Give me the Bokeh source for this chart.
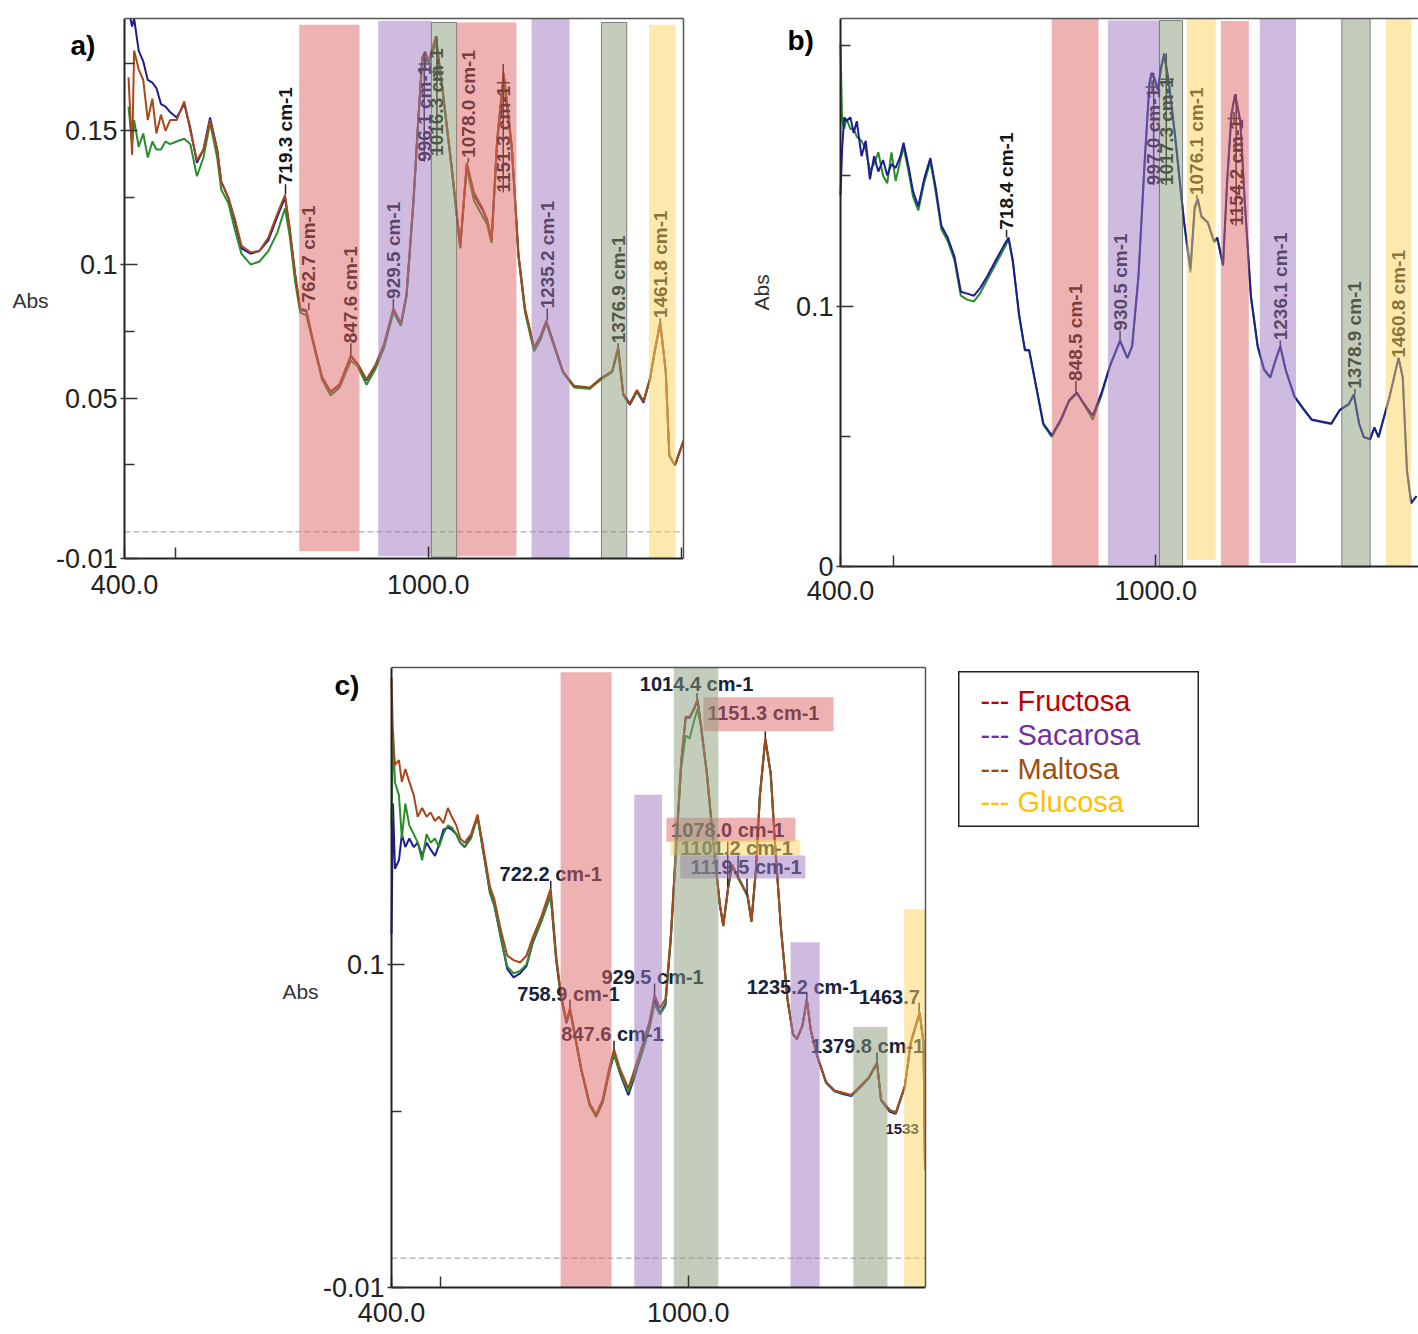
from math import pi
from bokeh.plotting import figure
from bokeh.models import (Range1d, FixedTicker, CustomJSTickFormatter, ColumnDataSource, LinearAxis, Spacer)
from bokeh.layouts import row, column
from bokeh.embed import file_html
from bokeh.resources import INLINE
from bokeh.core.properties import value

# ---------------- DATA ----------------
# Axis limits of each panel (wavenumber cm-1, absorbance)
A_XLIM = (400, 1504)
A_YLIM = (-0.01, 0.192)
B_XLIM = (400, 1500)
B_YLIM = (0.0, 0.2103)
C_XLIM = (400, 1480)
C_YLIM = (-0.01, 0.20115)

# Panel a) spectra
A_WN = [408, 415, 419, 428, 437, 446, 455, 463, 472, 481, 490, 503, 518, 530, 543, 556, 569, 583, 591, 605,
        618, 631, 649, 666, 684, 702, 717, 726, 737, 747, 759, 772, 790, 807, 825, 847, 860, 878, 896, 913,
        931, 946, 957, 971, 980, 988, 994, 1001, 1015, 1028, 1046, 1063, 1076, 1090, 1107, 1116, 1125, 1136, 1149, 1165,
        1178, 1191, 1209, 1222, 1233, 1248, 1266, 1288, 1319, 1341, 1363, 1375, 1385, 1398, 1412, 1425, 1438, 1447, 1458, 1469,
        1476, 1487, 1504]
A_BROWN = [0.170, 0.141, 0.180, 0.173, 0.169, 0.154, 0.162, 0.149, 0.156, 0.150,
           0.154, 0.154, 0.161, 0.150, 0.139, 0.143, 0.154, 0.143, 0.131, 0.125,
           0.117, 0.107, 0.1045, 0.105, 0.110, 0.119, 0.126, 0.114, 0.0965, 0.0835,
           0.083, 0.072, 0.058, 0.0525, 0.0553, 0.066, 0.063, 0.057, 0.0626, 0.0705,
           0.0835, 0.078, 0.089, 0.125, 0.154, 0.1775, 0.1796, 0.176, 0.1854, 0.166,
           0.137, 0.107, 0.138, 0.127, 0.121, 0.117, 0.1095, 0.147, 0.1717, 0.144,
           0.104, 0.0835, 0.069, 0.0734, 0.079, 0.0705, 0.060, 0.0546, 0.054, 0.0575,
           0.060, 0.069, 0.0517, 0.048, 0.053, 0.0488, 0.0575, 0.0676, 0.0785, 0.060,
           0.0286, 0.025, 0.034]
A_BLUE = [0.195, 0.189, 0.192, 0.180, 0.176, 0.169, 0.168, 0.166, 0.160, 0.159,
          0.157, 0.155, 0.160, 0.151, 0.138, 0.143, 0.155, 0.143, 0.131, 0.125,
          0.116, 0.106, 0.104, 0.105, 0.109, 0.118, 0.125, 0.1135, 0.096, 0.083,
          0.0825, 0.0715, 0.0578, 0.0522, 0.055, 0.0655, 0.0628, 0.0566, 0.0622, 0.070,
          0.083, 0.0775, 0.0885, 0.1245, 0.1535, 0.177, 0.179, 0.1755, 0.185, 0.1655,
          0.1365, 0.1065, 0.1375, 0.126, 0.1205, 0.1165, 0.109, 0.1465, 0.171, 0.1435,
          0.1035, 0.083, 0.0685, 0.073, 0.0785, 0.070, 0.0597, 0.0543, 0.0537, 0.0572,
          0.0598, 0.0687, 0.0512, 0.0475, 0.0525, 0.0483, 0.0572, 0.0673, 0.0782, 0.0598,
          0.0284, 0.0248, 0.0338]
A_GREEN = [0.159, 0.145, 0.154, 0.144, 0.149, 0.140, 0.146, 0.143, 0.143, 0.146,
           0.145, 0.146, 0.147, 0.145, 0.133, 0.140, 0.153, 0.140, 0.128, 0.123,
           0.113, 0.104, 0.100, 0.101, 0.105, 0.112, 0.121, 0.111, 0.0936, 0.082,
           0.081, 0.071, 0.057, 0.051, 0.054, 0.064, 0.062, 0.055, 0.061, 0.069,
           0.082, 0.077, 0.088, 0.124, 0.153, 0.176, 0.177, 0.175, 0.183, 0.165,
           0.136, 0.106, 0.136, 0.124, 0.118, 0.115, 0.108, 0.145, 0.169, 0.143,
           0.103, 0.082, 0.0675, 0.072, 0.078, 0.0695, 0.0595, 0.054, 0.0535, 0.057,
           0.0598, 0.068, 0.0512, 0.048, 0.0528, 0.0487, 0.0572, 0.0672, 0.078, 0.0598,
           0.0285, 0.0248, 0.0342]

# Panel b) spectra
B_WN = [400, 403, 407, 411, 419, 425, 431, 440, 448, 456, 464, 472, 481, 489, 497, 505, 514, 520, 530, 538,
        548, 559, 571, 581, 592, 604, 617, 629, 641, 654, 666, 679, 695, 711, 720, 728, 740, 751, 759, 769,
        786, 802, 819, 835, 850, 864, 880, 897, 913, 932, 946, 955, 967, 979, 988, 992, 998, 1004, 1010, 1016,
        1025, 1037, 1054, 1066, 1074, 1080, 1087, 1099, 1111, 1117, 1128, 1136, 1144, 1151, 1161, 1169, 1181, 1194, 1206, 1218,
        1227, 1237, 1247, 1264, 1280, 1297, 1317, 1334, 1350, 1367, 1377, 1387, 1396, 1408, 1416, 1424, 1433, 1445, 1462, 1470,
        1478, 1486, 1496]
B_BLUE = [0.1426, 0.160, 0.1724, 0.1709, 0.1724, 0.1664, 0.1709, 0.1575, 0.1634, 0.1486,
          0.1575, 0.1516, 0.156, 0.1501, 0.1545, 0.153, 0.1575, 0.1627, 0.153, 0.1441,
          0.1382, 0.1486, 0.1568, 0.1456, 0.1308, 0.1263, 0.1189, 0.1055, 0.1048, 0.104,
          0.107, 0.1114, 0.1174, 0.1233, 0.1263, 0.1174, 0.0966, 0.0832, 0.0832, 0.0728,
          0.055, 0.0505, 0.0565, 0.0639, 0.0669, 0.0624, 0.058, 0.0669, 0.0773, 0.0869,
          0.0802, 0.0847, 0.1114, 0.156, 0.1857, 0.1895, 0.1872, 0.1828, 0.1917, 0.1969,
          0.1857, 0.1649, 0.1322, 0.1144, 0.1382, 0.1412, 0.1345, 0.1322, 0.1248, 0.1263,
          0.1159, 0.1486, 0.1738, 0.1813, 0.1709, 0.1412, 0.104, 0.0847, 0.0758, 0.0728,
          0.0788, 0.0847, 0.0758, 0.0654, 0.0609, 0.0565, 0.0557, 0.055, 0.0602, 0.0624,
          0.0661, 0.055, 0.0498, 0.049, 0.0535, 0.0498, 0.0565, 0.0654, 0.0802, 0.0728,
          0.0371, 0.0245, 0.0272]
B_GREEN = [0.2006, 0.1709, 0.168, 0.172, 0.1679, 0.168, 0.165, 0.1634, 0.160, 0.152,
           0.1545, 0.159, 0.150, 0.1471, 0.159, 0.148, 0.156, 0.161, 0.151, 0.142,
           0.1367, 0.147, 0.1555, 0.144, 0.1295, 0.125, 0.1175, 0.104, 0.1025, 0.1018,
           0.105, 0.110, 0.116, 0.122, 0.1255, 0.117, 0.0962, 0.083, 0.083, 0.0725,
           0.0545, 0.0498, 0.0558, 0.0635, 0.0665, 0.062, 0.0565, 0.066, 0.077, 0.0865,
           0.080, 0.0845, 0.111, 0.1555, 0.185, 0.189, 0.187, 0.183, 0.191, 0.196,
           0.1855, 0.1645, 0.1315, 0.1129, 0.137, 0.1405, 0.134, 0.132, 0.1245, 0.126,
           0.1155, 0.148, 0.173, 0.181, 0.1705, 0.141, 0.1035, 0.0843, 0.0755, 0.0725,
           0.0785, 0.0845, 0.0755, 0.0652, 0.0607, 0.0563, 0.0555, 0.0548, 0.060, 0.0622,
           0.066, 0.0548, 0.0497, 0.0489, 0.0533, 0.0497, 0.0563, 0.0652, 0.080, 0.0726,
           0.037, 0.0244, 0.0270]

# Panel c) spectra
C_WN = [400, 403, 407, 415, 421, 428, 436, 445, 453, 462, 471, 479, 488, 496, 505, 514, 522, 531, 539, 548,
        561, 574, 587, 599, 608, 621, 634, 647, 660, 673, 685, 703, 722, 733, 743, 754, 761, 771, 784, 801,
        814, 827, 840, 850, 862, 879, 892, 909, 922, 932, 943, 954, 965, 978, 986, 995, 1003, 1012, 1019, 1025,
        1038, 1051, 1064, 1071, 1081, 1089, 1102, 1111, 1120, 1128, 1137, 1145, 1156, 1167, 1175, 1188, 1201, 1212, 1220, 1231,
        1240, 1248, 1261, 1279, 1296, 1313, 1330, 1347, 1365, 1382, 1390, 1408, 1420, 1429, 1438, 1450, 1468, 1476, 1479]
C_BROWN = [0.1977, 0.177, 0.168, 0.1696, 0.1622, 0.1666, 0.1622, 0.1577, 0.1503, 0.1533,
           0.1503, 0.1518, 0.1489, 0.1503, 0.1481, 0.1533, 0.1503, 0.1474, 0.1429, 0.1415,
           0.1444, 0.1511, 0.1385, 0.1266, 0.1222, 0.1118, 0.103, 0.1015, 0.1007, 0.103,
           0.1089, 0.1163, 0.1259, 0.103, 0.0896, 0.0808, 0.0852, 0.0763, 0.0645, 0.0526,
           0.0489, 0.0541, 0.0645, 0.0711, 0.0645, 0.0578, 0.0645, 0.0734, 0.0808, 0.0896,
           0.0852, 0.0882, 0.1104, 0.1474, 0.1696, 0.1844, 0.1844, 0.1873, 0.1903, 0.1829,
           0.1651, 0.1415, 0.1207, 0.1133, 0.1266, 0.134, 0.1296, 0.1266, 0.1237, 0.1148,
           0.1326, 0.1577, 0.177, 0.1651, 0.1429, 0.1118, 0.0882, 0.0763, 0.0748, 0.0793,
           0.0882, 0.0778, 0.0689, 0.060, 0.0571, 0.0563, 0.0556, 0.0585, 0.0615, 0.0667,
           0.0541, 0.0504, 0.0497, 0.0541, 0.0585, 0.0734, 0.0837, 0.0734, 0.030]
C_GREEN = [0.1474, 0.180, 0.162, 0.1577, 0.143, 0.1548, 0.1474, 0.1444, 0.1415, 0.1355,
           0.1444, 0.1415, 0.1429, 0.140, 0.1444, 0.1474, 0.1466, 0.1444, 0.1415, 0.140,
           0.143, 0.1503, 0.137, 0.125, 0.1205, 0.109, 0.0993, 0.097, 0.0978, 0.100,
           0.1074, 0.1148, 0.1237, 0.102, 0.089, 0.0805, 0.0845, 0.076, 0.064, 0.052,
           0.048, 0.053, 0.0635, 0.0695, 0.0635, 0.0565, 0.0625, 0.071, 0.0785, 0.0865,
           0.083, 0.086, 0.109, 0.146, 0.167, 0.178, 0.177, 0.183, 0.187, 0.182,
           0.1645, 0.141, 0.1203, 0.113, 0.126, 0.1335, 0.129, 0.1262, 0.1233, 0.1145,
           0.1322, 0.157, 0.1765, 0.1648, 0.1425, 0.1115, 0.088, 0.0762, 0.0746, 0.079,
           0.0878, 0.0775, 0.0687, 0.0598, 0.057, 0.0562, 0.0555, 0.0583, 0.0613, 0.0664,
           0.054, 0.0502, 0.0495, 0.054, 0.0583, 0.0732, 0.0835, 0.0732, 0.030]
C_BLUE = [0.1104, 0.1548, 0.1326, 0.1355, 0.1444, 0.140, 0.1429, 0.140, 0.1415, 0.137,
          0.1415, 0.1392, 0.137, 0.1407, 0.1459, 0.1466, 0.1459, 0.1444, 0.1415, 0.140,
          0.1437, 0.1503, 0.137, 0.1245, 0.120, 0.1095, 0.0985, 0.0956, 0.097, 0.0995,
          0.107, 0.1148, 0.1237, 0.1015, 0.0885, 0.080, 0.0845, 0.0755, 0.064, 0.052,
          0.0485, 0.053, 0.063, 0.0695, 0.063, 0.0555, 0.062, 0.0715, 0.079, 0.088,
          0.0835, 0.0865, 0.109, 0.1465, 0.169, 0.184, 0.184, 0.187, 0.190, 0.1825,
          0.1648, 0.1412, 0.1205, 0.1132, 0.1264, 0.1338, 0.1294, 0.1264, 0.1235, 0.1146,
          0.1324, 0.1575, 0.1768, 0.165, 0.1427, 0.1116, 0.088, 0.0761, 0.0746, 0.0791,
          0.088, 0.0776, 0.0687, 0.0597, 0.0568, 0.0559, 0.0552, 0.058, 0.0612, 0.0664,
          0.0537, 0.0498, 0.0492, 0.0537, 0.0582, 0.0732, 0.0835, 0.0732, 0.030]

# Shaded bands (left, right, bottom, top, kind)
A_BAND_L = [745, 901, 1006, 1056, 1204, 1342, 1436]
A_BAND_R = [864, 1006, 1056, 1174, 1279, 1392, 1488]
A_BAND_B = [-0.0073, -0.0092, -0.0095, -0.0092, -0.010, -0.010, -0.010]
A_BAND_T = [0.1897, 0.1912, 0.1905, 0.1905, 0.192, 0.1905, 0.1897]
A_BAND_K = ["red", "purple", "gray", "red", "purple", "gray", "yellow"]

B_BAND_L = [802, 909, 1007, 1059, 1124, 1198, 1354, 1438]
B_BAND_R = [891, 1007, 1051, 1114, 1177, 1267, 1408, 1486]
B_BAND_B = [0.0, 0.0007, 0.0, 0.0027, 0.0, 0.0015, 0.0, 0.0]
B_BAND_T = [0.2103, 0.2095, 0.2095, 0.2103, 0.2093, 0.2103, 0.2103, 0.2103]
B_BAND_K = ["red", "purple", "gray", "yellow", "red", "purple", "gray", "yellow"]

C_BAND_L = [742, 891, 971, 1207, 1334, 1437]
C_BAND_R = [845, 947, 1061, 1266, 1403, 1486]
C_BAND_B = [-0.01, -0.01, -0.01, -0.01, -0.01, -0.01]
C_BAND_T = [0.1995, 0.1578, 0.2012, 0.1076, 0.0787, 0.1188]
C_BAND_K = ["red", "purple", "gray", "purple", "gray", "yellow"]

BAND_COLORS = {"red": "#e06666", "purple": "#a078c0", "gray": "#8a9a7a", "yellow": "#fbd35d"}

# Peak annotations (panel a / b: vertical labels)
A_PK_TEXT = ["719.3 cm-1", "762.7 cm-1", "847.6 cm-1", "929.5 cm-1", "996.1 cm-1", "1016.3 cm-1",
             "1078.0 cm-1", "1151.3 cm-1", "1235.2 cm-1", "1376.9 cm-1", "1461.8 cm-1"]
A_PK_X = [718, 764, 847, 931, 992, 1017, 1079, 1148, 1235, 1375, 1458]
A_PK_PEAK = [0.1262, 0.083, 0.066, 0.0835, 0.1796, 0.1854, 0.138, 0.175, 0.079, 0.069, 0.0785]
A_PK_LAB = [0.130, 0.0857, 0.0705, 0.0871, 0.1384, 0.1406, 0.1399, 0.1269, 0.0835, 0.0705, 0.0799]
A_CROSS_X = [994, 1018, 1148]
A_CROSS_Y = [0.175, 0.172, 0.168]

B_PK_TEXT = ["718.4 cm-1", "848.5 cm-1", "930.5 cm-1", "997.0 cm-1", "1017.3 cm-1", "1076.1 cm-1",
             "1154.2 cm-1", "1236.1 cm-1", "1378.9 cm-1", "1460.8 cm-1"]
B_PK_X = [716, 848, 932, 996, 1020, 1078, 1153, 1237, 1379, 1461]
B_PK_PEAK = [0.1263, 0.0669, 0.0869, 0.1895, 0.1969, 0.1412, 0.1813, 0.0847, 0.0661, 0.0802]
B_PK_LAB = [0.1293, 0.0713, 0.0906, 0.1464, 0.1464, 0.1426, 0.1308, 0.0869, 0.0683, 0.0802]
B_CROSS_X = [993, 1022, 1149]
B_CROSS_Y = [0.184, 0.187, 0.172]

# Panel c: horizontal labels
C_PK_TEXT = ["1014.4 cm-1", "1151.3 cm-1", "1078.0 cm-1", "1101.2 cm-1", "1119.5 cm-1",
             "722.2 cm-1", "758.9 cm-1", "929.5 cm-1", "847.6 cm-1", "1235.2 cm-1"]
C_PK_X = [1017, 1152, 1080, 1098, 1117, 722, 758, 928, 847, 1233]
C_PK_Y = [0.1957, 0.1858, 0.1458, 0.1397, 0.1331, 0.1307, 0.0898, 0.0959, 0.0762, 0.0922]
C_PKL_TEXT = ["1463.7", "1379.8 cm-1"]
C_PKL_X = [1345, 1248]
C_PKL_Y = [0.0891, 0.0721]
C_SMALL_TEXT = ["1533"]
C_SMALL_X = [1399]
C_SMALL_Y = [0.0441]
C_LINE_X = [1018, 1156, 722, 761, 850, 932, 1240, 1382, 1467, 1080, 1101, 1119]
C_LINE_PEAK = [0.1903, 0.177, 0.1259, 0.0852, 0.0711, 0.0896, 0.0882, 0.0667, 0.0837, 0.1266, 0.1296, 0.1237]
C_LINE_LAB = [0.1925, 0.1794, 0.1285, 0.0880, 0.0740, 0.0935, 0.0905, 0.0700, 0.0870, 0.1418, 0.1371, 0.1293]
C_BOX_L = [1031, 956, 964, 984]
C_BOX_R = [1294, 1217, 1227, 1237]
C_BOX_B = [0.1794, 0.1418, 0.1371, 0.1293]
C_BOX_T = [0.1910, 0.1500, 0.1425, 0.1371]
C_BOX_K = ["red", "red", "yellow", "purple"]

# Panel tags and axis titles (position in each panel's data space)
TAGS = ["a)", "b)", "c)"]
TAG_X = [293.3, 299.1, 284.7]
TAG_Y = [0.1819, 0.2019, 0.1950]
ABS_X = [214.4, 249.7, 216.0]
ABS_Y = [0.0865, 0.1053, 0.0908]

LEG_NAMES = ["Fructosa", "Sacarosa", "Maltosa", "Glucosa"]
LEG_COLORS = ["#c00000", "#7030a0", "#9c4f0f", "#ffc000"]

COL_BLUE = "#1c1c96"
COL_BROWN = "#a8461c"
COL_GREEN = "#2a8c2a"

FONT = value("Liberation Sans")
YFMT = """
if (Math.abs(tick) < 1e-9) { return "0"; }
var s = tick.toFixed(2);
if (s.endsWith("0")) { s = s.slice(0, -1); }
return s;
"""


def frame_axis(bounds):
    return LinearAxis(ticker=FixedTicker(ticks=[]), bounds=bounds, axis_line_color="#555555", axis_line_width=1.5,
                      major_tick_line_color=None, minor_tick_line_color=None,
                      major_label_text_font_size="0px", major_label_standoff=0,
                      major_tick_out=0, minor_tick_out=0, major_tick_in=0, minor_tick_in=0)


def make_fig(width, height, xr, yr, bt, br, xlim, ylim, yticks, yminor, xminor, xstand, right_frame=True):
    p = figure(width=width, height=height, x_range=Range1d(*xr), y_range=Range1d(*yr),
               toolbar_location=None, output_backend="svg", title=None,
               min_border_left=0, min_border_right=br, min_border_top=bt, min_border_bottom=0)
    p.grid.visible = False
    p.background_fill_color = "white"
    p.border_fill_color = "white"
    p.outline_line_color = None
    for ax in (p.xaxis[0], p.yaxis[0]):
        ax.axis_line_color = "#222222"
        ax.axis_line_width = 2
        ax.major_tick_line_color = "#333333"
        ax.minor_tick_line_color = "#333333"
        ax.major_tick_line_width = 1.5
        ax.minor_tick_line_width = 1.5
        ax.major_label_text_font = "Liberation Sans"
        ax.major_label_text_font_size = "27px"
        ax.major_label_text_color = "#222222"
    p.xaxis.fixed_location = ylim[0]
    p.xaxis.bounds = xlim
    p.yaxis.fixed_location = xlim[0]
    p.yaxis.bounds = ylim
    p.xaxis.ticker = FixedTicker(ticks=[400, 1000], minor_ticks=xminor)
    p.xaxis.formatter = CustomJSTickFormatter(code="return tick.toFixed(1);")
    p.xaxis.major_tick_in = 12
    p.xaxis.major_tick_out = 0
    p.xaxis.minor_tick_in = 11
    p.xaxis.minor_tick_out = 0
    p.xaxis.major_label_standoff = xstand
    p.yaxis.ticker = FixedTicker(ticks=yticks, minor_ticks=yminor)
    p.yaxis.formatter = CustomJSTickFormatter(code=YFMT)
    p.yaxis.major_tick_in = 13
    p.yaxis.major_tick_out = 4
    p.yaxis.minor_tick_in = 10
    p.yaxis.minor_tick_out = 0
    p.yaxis.major_label_standoff = 3
    p.add_layout(frame_axis(xlim), "above")
    if right_frame:
        p.add_layout(frame_axis(ylim), "right")
    return p


def add_bands(p, L, R, B, T, K, gray_edge=False):
    src = ColumnDataSource(dict(left=L, right=R, bottom=B, top=T,
                                color=[BAND_COLORS[k] for k in K],
                                lc=[("#555555" if (k == "gray" and gray_edge) else BAND_COLORS[k]) for k in K],
                                la=[(0.7 if (k == "gray" and gray_edge) else 0.0) for k in K]))
    p.quad(left="left", right="right", bottom="bottom", top="top", source=src,
           fill_color="color", fill_alpha=0.5, line_color="lc", line_alpha="la", line_width=1)


def add_vlabels(p, xs, peaks, labs, texts):
    p.segment(x0=xs, y0=peaks, x1=xs, y1=labs, line_color="#222222", line_width=1.5)
    p.text(x=xs, y=labs, text=texts, angle=pi / 2, text_align="left", text_baseline="middle",
           text_font=FONT, text_font_size=value("19px"), text_font_style="bold", text_color="#151515")


def add_side_labels(p, i, abs_angle):
    p.text(x=[TAG_X[i]], y=[TAG_Y[i]], text=[TAGS[i]], text_align="left", text_baseline="middle",
           text_font=FONT, text_font_size=value("28px"), text_font_style="bold", text_color="black")
    p.text(x=[ABS_X[i]], y=[ABS_Y[i]], text=["Abs"], angle=abs_angle, text_align="center",
           text_baseline="middle", text_font=FONT, text_font_size=value("21px"), text_color="#333333")


def add_zero_line(p, xlim):
    p.line(x=list(xlim), y=[0, 0], line_color="#bbbbbb", line_dash="6 3", line_width=1.5)


# ---------------- Panel a ----------------
pa = make_fig(740, 618, (155.1, 1504), (-0.032445, 0.192), 18, 57, A_XLIM, A_YLIM,
              [-0.01, 0.05, 0.1, 0.15], [0.025, 0.075, 0.125, 0.175], [500, 1500], 17)
add_zero_line(pa, A_XLIM)
pa.line(A_WN, A_BLUE, line_color=COL_BLUE, line_width=2)
pa.line(A_WN, A_GREEN, line_color=COL_GREEN, line_width=2)
pa.line(A_WN, A_BROWN, line_color=COL_BROWN, line_width=2)
add_vlabels(pa, A_PK_X, A_PK_PEAK, A_PK_LAB, A_PK_TEXT)
pa.scatter(A_CROSS_X, A_CROSS_Y, marker="cross", size=13, line_color="#222222", line_width=1.5)
add_bands(pa, A_BAND_L, A_BAND_R, A_BAND_B, A_BAND_T, A_BAND_K, gray_edge=True)
add_side_labels(pa, 0, 0)

# ---------------- Panel b ----------------
pb = make_fig(678, 618, (209.7, 1500), (-0.01978, 0.2103), 13, 0, B_XLIM, B_YLIM,
              [0, 0.1], [0.05, 0.15, 0.2], [500], 14, right_frame=False)
pb.line(B_WN, B_GREEN, line_color=COL_GREEN, line_width=2)
pb.line(B_WN, B_BLUE, line_color=COL_BLUE, line_width=2)
add_vlabels(pb, B_PK_X, B_PK_PEAK, B_PK_LAB, B_PK_TEXT)
pb.scatter(B_CROSS_X, B_CROSS_Y, marker="cross", size=13, line_color="#222222", line_width=1.5)
add_bands(pb, B_BAND_L, B_BAND_R, B_BAND_B, B_BAND_T, B_BAND_K, gray_edge=True)
add_side_labels(pb, 1, pi / 2)

# ---------------- Panel c ----------------
pc = make_fig(940, 714, (-390.8, 1480), (-0.025325, 0.20115), 49, 15, C_XLIM, C_YLIM,
              [-0.01, 0.1], [0.05], [500], 15)
add_zero_line(pc, C_XLIM)
pc.line(C_WN, C_BLUE, line_color=COL_BLUE, line_width=2)
pc.line(C_WN, C_GREEN, line_color=COL_GREEN, line_width=2)
pc.line(C_WN, C_BROWN, line_color=COL_BROWN, line_width=2)
pc.segment(x0=C_LINE_X, y0=C_LINE_PEAK, x1=C_LINE_X, y1=C_LINE_LAB, line_color="#222222", line_width=1.5)
pc.text(x=C_PK_X, y=C_PK_Y, text=C_PK_TEXT, text_align="center", text_baseline="middle",
        text_font=FONT, text_font_size=value("20px"), text_font_style="bold", text_color="#16223a")
pc.text(x=C_PKL_X, y=C_PKL_Y, text=C_PKL_TEXT, text_align="left", text_baseline="middle",
        text_font=FONT, text_font_size=value("20px"), text_font_style="bold", text_color="#16223a")
pc.text(x=C_SMALL_X, y=C_SMALL_Y, text=C_SMALL_TEXT, text_align="left", text_baseline="middle",
        text_font=FONT, text_font_size=value("15px"), text_font_style="bold", text_color="#16223a")
box_src = ColumnDataSource(dict(left=C_BOX_L, right=C_BOX_R, bottom=C_BOX_B, top=C_BOX_T,
                                color=[BAND_COLORS[k] for k in C_BOX_K]))
pc.quad(left="left", right="right", bottom="bottom", top="top", source=box_src,
        fill_color="color", fill_alpha=0.5, line_color=None)
add_bands(pc, C_BAND_L, C_BAND_R, C_BAND_B, C_BAND_T, C_BAND_K)
add_side_labels(pc, 2, 0)

# ---------------- Legend box ----------------
pl = figure(width=241, height=156, x_range=Range1d(0, 241), y_range=Range1d(0, 156),
            toolbar_location=None, output_backend="svg", title=None,
            min_border_left=0, min_border_right=0, min_border_top=0, min_border_bottom=0)
pl.axis.visible = False
pl.grid.visible = False
pl.outline_line_color = "#222222"
pl.outline_line_width = 2
leg_src = ColumnDataSource(dict(x=[22] * len(LEG_NAMES), y=[127, 93, 59, 26],
                                t=["--- " + n for n in LEG_NAMES], c=LEG_COLORS))
pl.text(x="x", y="y", text="t", text_color="c", source=leg_src, text_align="left", text_baseline="middle",
        text_font=FONT, text_font_size=value("29px"))

layout = column(
    row(pa, pb),
    row(pc, Spacer(width=18, height=10), column(Spacer(width=241, height=53), pl)),
)

open("out.html", "w").write(file_html(layout, INLINE))
